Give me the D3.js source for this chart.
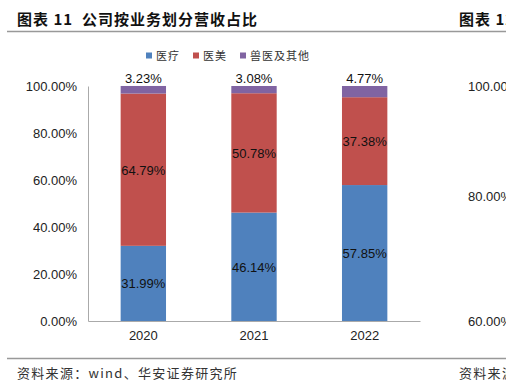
<!DOCTYPE html>
<html>
<head>
<meta charset="utf-8">
<script src="https://cdn.jsdelivr.net/npm/d3@7"></script>
<style>
  body { margin: 0; background: #fff; }
  text { font-family: "Liberation Sans", Arial, sans-serif; }
  .cjk { font-family: "Noto Sans CJK SC", sans-serif; }
</style>
</head>
<body>
<div id="chart"></div>
<script>
// data
const years = ["2020", "2021", "2022"];
const medical = [31.99, 46.14, 57.85];
const beauty = [64.79, 50.78, 37.38];
const vetOther = [3.23, 3.08, 4.77];
const seriesNames = ["医疗", "医美", "兽医及其他"];
const yTicks = [0, 20, 40, 60, 80, 100];

const colors = ["#4F81BD", "#C0504D", "#8064A2"];

const svgWidth = 506;
const svgHeight = 386;
const margin = { top: 86, right: 86, bottom: 65, left: 88 };
const chartWidth = svgWidth - margin.left - margin.right;
const chartHeight = svgHeight - margin.top - margin.bottom;

const svg = d3.select("#chart")
  .append("svg")
  .attr("width", svgWidth)
  .attr("height", svgHeight);

// header
svg.append("text")
  .attr("class", "cjk")
  .attr("x", 17)
  .attr("y", 25)
  .attr("font-size", 15)
  .attr("font-weight", "bold")
  .attr("letter-spacing", 1)
  .attr("fill", "#111")
  .attr("xml:space", "preserve")
  .text("图表 11  公司按业务划分营收占比");

svg.append("text")
  .attr("class", "cjk")
  .attr("x", 459)
  .attr("y", 25)
  .attr("font-size", 15)
  .attr("font-weight", "bold")
  .attr("letter-spacing", 1)
  .attr("fill", "#111")
  .text("图表 12");

svg.append("line")
  .attr("x1", 7).attr("x2", svgWidth)
  .attr("y1", 31.5).attr("y2", 31.5)
  .attr("stroke", "#999").attr("stroke-width", 1.5);

svg.append("line")
  .attr("x1", 7).attr("x2", svgWidth)
  .attr("y1", 358.5).attr("y2", 358.5)
  .attr("stroke", "#999").attr("stroke-width", 1.5);

svg.append("text")
  .attr("class", "cjk")
  .attr("x", 17)
  .attr("y", 378)
  .attr("font-size", 13)
  .attr("letter-spacing", 1.3)
  .attr("fill", "#333")
  .text("资料来源：wind、华安证券研究所");

svg.append("text")
  .attr("class", "cjk")
  .attr("x", 459)
  .attr("y", 378)
  .attr("font-size", 13)
  .attr("letter-spacing", 1.3)
  .attr("fill", "#333")
  .text("资料来源");

// neighbour chart tick labels cut at the right edge
[100, 80, 60].forEach((v, i) => {
  svg.append("text")
    .attr("x", 468)
    .attr("y", [86, 196, 321][i] + 4.5)
    .attr("font-size", 13)
    .attr("fill", "#222")
    .text(v.toFixed(2) + "%");
});

// legend
const legend = svg.append("g").attr("transform", "translate(146, 56)");
const legendX = [0, 47, 94];
seriesNames.forEach((name, i) => {
  const g = legend.append("g").attr("transform", `translate(${legendX[i]}, 0)`);
  g.append("rect")
    .attr("x", 0).attr("y", -3.5)
    .attr("width", 6).attr("height", 6)
    .attr("fill", colors[i]);
  g.append("text")
    .attr("class", "cjk")
    .attr("x", 10).attr("y", 4)
    .attr("font-size", 11)
    .attr("letter-spacing", 1)
    .attr("fill", "#333")
    .text(name);
});

const chartGroup = svg.append("g")
  .attr("transform", `translate(${margin.left}, ${margin.top})`);

const xScale = d3.scaleBand()
  .domain(years)
  .range([0, chartWidth])
  .paddingInner(0.59)
  .paddingOuter(0.295);

const yScale = d3.scaleLinear()
  .domain([0, 100])
  .range([chartHeight, 0]);

// stack data
const table = years.map((y, i) => ({ year: y, medical: medical[i], beauty: beauty[i], vet: vetOther[i] }));
const keys = ["medical", "beauty", "vet"];
const stacked = d3.stack().keys(keys)(table);

const layers = chartGroup.selectAll(".layer")
  .data(stacked)
  .enter()
  .append("g")
  .attr("fill", (d, i) => colors[i]);

layers.selectAll("rect")
  .data(d => d)
  .enter()
  .append("rect")
  .attr("x", d => xScale(d.data.year))
  .attr("y", d => yScale(d[1]))
  .attr("width", xScale.bandwidth())
  .attr("height", d => yScale(d[0]) - yScale(d[1]));

// value labels
stacked.forEach((layer, li) => {
  chartGroup.selectAll(null)
    .data(layer)
    .enter()
    .append("text")
    .attr("x", d => xScale(d.data.year) + xScale.bandwidth() / 2)
    .attr("y", d => li === 2 ? yScale(d[1]) - 3 : yScale((d[0] + d[1]) / 2) + 5)
    .attr("text-anchor", "middle")
    .attr("font-size", 13)
    .attr("fill", "#111")
    .text(d => d.data[keys[li]].toFixed(2) + "%");
});

// axes
const yAxis = d3.axisLeft(yScale)
  .tickValues(yTicks)
  .tickSize(0)
  .tickPadding(11)
  .tickFormat(d => d.toFixed(2) + "%");

chartGroup.append("g")
  .call(yAxis)
  .call(g => g.select(".domain").attr("stroke", "#aaa"))
  .call(g => g.selectAll("text").attr("font-size", 13).attr("fill", "#222")
    .attr("font-family", "'Liberation Sans', Arial, sans-serif"));

const xAxis = d3.axisBottom(xScale).tickSize(0).tickPadding(10);

chartGroup.append("g")
  .attr("transform", `translate(0, ${chartHeight})`)
  .call(xAxis)
  .call(g => g.select(".domain").attr("stroke", "#aaa"))
  .call(g => g.selectAll("text").attr("font-size", 13).attr("fill", "#222")
    .attr("font-family", "'Liberation Sans', Arial, sans-serif"));
</script>
</body>
</html>
